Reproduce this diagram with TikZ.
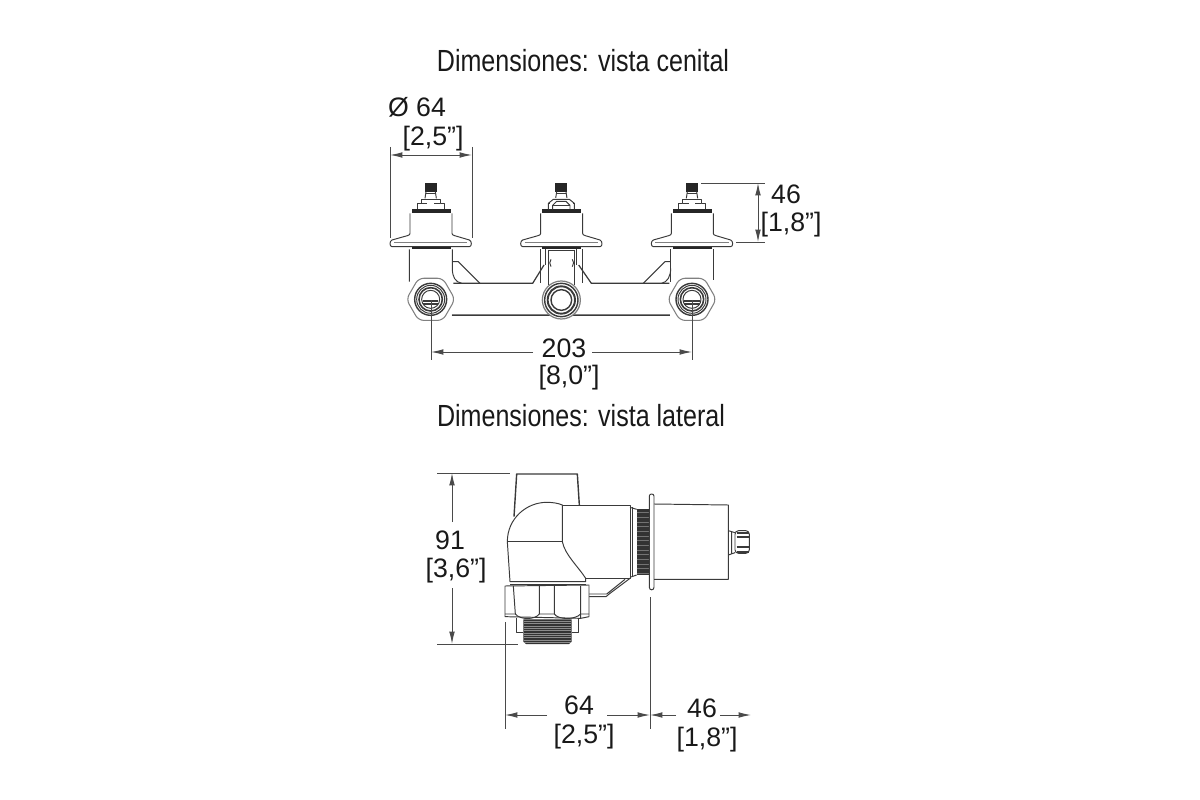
\documentclass[tikz,border=0pt]{standalone}
\usepackage{fontspec}
\setmainfont{Liberation Sans}
\newfontfamily\narrowfont[FakeStretch=0.82]{Liberation Sans}
\usetikzlibrary{arrows.meta}
\definecolor{inkgray}{HTML}{3A3A3A}
\definecolor{dimgray}{HTML}{4A4A4A}
\definecolor{threadgray}{HTML}{333333}
\tikzset{
    part/.style={draw=inkgray, line width=0.55pt, line join=round},
    thinpart/.style={draw=dimgray!70, line width=0.4pt},
    blackfill/.style={fill=black!85, draw=none},
    dimline/.style={draw=dimgray, line width=0.55pt},
    dimarrow/.style={dimline, -{Latex[length=7pt,width=3.2pt]}},
    dimboth/.style={dimline, {Latex[length=7pt,width=3.2pt]}-{Latex[length=7pt,width=3.2pt]}},
    dimtext/.style={text=black!90, font=\fontsize{15.2}{17}\selectfont, inner sep=0pt},
    titletext/.style={text=black!90, font=\narrowfont\fontsize{17.4}{19}\selectfont, inner sep=0pt},
    valvebody/.pic={
        \path[blackfill] (-18,40) rectangle (18,65);
        \draw[part] (-14,65) -- (-17,85) (14,65) -- (17,85);
        \draw[part, line width=0.8pt] (-14,70) -- (14,70);
        \draw[part] (-40,118) -- (-40,100) -- (-28,100) -- (-28,88) -- (28,88) -- (28,100) -- (40,100) -- (40,118);
        \draw[part] (-28,100) -- (-10,100) (10,100) -- (28,100);
        \path[blackfill] (-57,118) rectangle (60,130);
        \draw[part] (-62,130) -- (-62,190) .. controls (-62,194) and (-64,195) .. (-70,197) -- (-116,210)
            .. controls (-124,213) and (-124,230) .. (-116,230) -- (116,230)
            .. controls (124,230) and (124,213) .. (116,210) -- (72,197)
            .. controls (66,195) and (64,194) .. (64,190) -- (64,130);
        \draw[thinpart] (-110,217) -- (110,217);
        \path[blackfill] (-57,230) rectangle (60,236);
    },
    hexnut/.pic={
        \draw[thinpart, line width=0.6pt, fill=white, rounded corners=3pt]
            (0:73) -- (60:73) -- (120:73) -- (180:73) -- (240:73) -- (300:73) -- cycle;
        \draw[part, line width=0.8pt, fill=white] (0,0) circle (48);
        \draw[part] (0,0) circle (42);
        \draw[part, line width=0.9pt] (0,0) circle (35);
        \draw[part] (0,0) circle (27);
        \draw[part, line width=0.8pt] (-23,5) -- (23,5) (-23,14) -- (23,14);
    }
}
\begin{document}
\begin{tikzpicture}[x=0.02cm, y=-0.02cm]
    \useasboundingbox (0,0) rectangle (1200,800);

    % texts
    \node[titletext] (titletop) at (583,61) {Dimensiones: vista cenital};
    \node[titletext] (titleside) at (581,416) {Dimensiones: vista lateral};
    \node[dimtext] (dia) at (417,107) {Ø 64};
    \node[dimtext] (diainch) at (433,139) {[2,5”]};
    \node[dimtext] (high) at (786,194) {46};
    \node[dimtext] (highinch) at (791,225) {[1,8”]};
    \node[dimtext] (span) at (564,348) {203};
    \node[dimtext] (spaninch) at (569,378) {[8,0”]};
    \node[dimtext] (tall) at (450,540) {91};
    \node[dimtext] (tallinch) at (456,571) {[3,6”]};
    \node[dimtext] (deep) at (579,705) {64};
    \node[dimtext] (deepinch) at (584,737) {[2,5”]};
    \node[dimtext] (out) at (702,708) {46};
    \node[dimtext] (outinch) at (707,740) {[1,8”]};

    % top view
    \begin{scope}[shift={(380,170)}, scale=1/3]
        \pic[transform shape] at (152,0) {valvebody};
        \pic[transform shape] at (544,0) {valvebody};
        \pic[transform shape] at (936,0) {valvebody};
        % covers the plain step of the middle valve
        \path[fill=white] (510,84) rectangle (580,116);
        \draw[part] (505,118) -- (505,100) -- (520,88) -- (568,88) -- (583,100) -- (583,118);
        \draw[part] (518,118) -- (518,106) -- (530,94) -- (558,94) -- (570,106) -- (570,118);
        \draw[part] (518,106) -- (570,106);
        % tubes and bar
        \draw[part] (88,238) -- (88,335) (217,238) -- (217,295)
            .. controls (217,320) and (225,336) .. (245,340);
        \draw[part] (217,275) -- (235,275) -- (300,340);
        \draw[part] (872,335) -- (872,238) (1000,238) -- (1000,330);
        \draw[part] (872,295) .. controls (872,320) and (862,336) .. (845,340);
        \draw[part] (872,275) -- (855,275) -- (790,340);
        \draw[part, line width=0.7pt] (220,340) -- (458,340) -- (492,285);
        \draw[part, line width=0.7pt] (868,340) -- (634,340) -- (596,285);
        \draw[part] (215,437) -- (870,437);
        \draw[thinpart] (215,432) -- (870,432);
        \draw[part] (480,238) -- (480,340) (497,238) -- (497,285) (505,240) -- (505,345)
            (583,240) -- (583,345) (590,238) -- (590,285) (608,238) -- (608,340)
            (505,240) -- (583,240);
        \draw[part] (513,268) .. controls (508,275) and (508,282) .. (513,290);
        \draw[part] (577,268) .. controls (582,275) and (582,282) .. (577,290);
        % fittings
        \pic[transform shape] at (152,388) {hexnut};
        \pic[transform shape] at (936,388) {hexnut};
        \draw[thinpart, line width=0.7pt, fill=white] (544,390) circle (57);
        \draw[part, line width=0.8pt] (544,390) circle (50);
        \draw[part, line width=1.1pt] (544,390) circle (41);
        \draw[part, line width=0.8pt] (544,390) circle (31);
    \end{scope}

    % side view
    \begin{scope}[shift={(490,460)}, scale=1/3]
        \draw[part, line width=0.8pt] (72,170) -- (80,42) -- (262,42) -- (268,135);
        \draw[part, fill=white] (60,365) -- (52,245) .. controls (52,175) and (110,127) .. (170,127)
            .. controls (190,127) and (205,130) .. (217,135) -- (217,245)
            .. controls (225,285) and (265,320) .. (287,355) -- (287,365) -- cycle;
        \draw[part] (52,245) -- (217,245) (60,372) -- (287,372);
        \draw[part] (217,137) -- (420,137) -- (420,355) -- (287,355);
        \draw[part] (420,142) -- (440,148) (420,352) -- (440,345);
        \draw[part] (428,142) -- (428,350);
        \path[fill=threadgray] (440,148) rectangle (478,345);
        \foreach \ty in {158,172,...,340}{
            \draw[black!55, line width=0.2pt] (440,\ty) -- (478,\ty);
        }
        \draw[part, fill=white] (478,108) .. controls (478,100) and (492,100) .. (492,108) -- (492,382)
            .. controls (492,392) and (478,392) .. (478,382) -- cycle;
        \draw[part] (492,132) -- (715,135) -- (715,358) -- (492,358);
        \draw[part] (715,212) -- (735,218) (715,285) -- (735,278) (725,215) -- (725,282);
        \draw[part, rounded corners=2pt, fill=white] (735,212) -- (778,212) -- (778,280) -- (735,280) -- cycle;
        \draw[part, line width=1.2pt] (740,218) -- (776,218) (740,232) -- (776,232) (740,262) -- (776,262) (740,275) -- (776,275);
        % arm below the body
        \draw[part] (420,355) -- (360,400) -- (348,410) -- (292,410) (292,402) -- (350,402) -- (405,358);
        % nut and thread
        \draw[part, fill=white] (45,378) -- (297,375) -- (297,470) -- (272,475) -- (45,470) -- cycle;
        \draw[part] (70,378) -- (76,462) (148,378) -- (148,462) (193,378) -- (193,462) (272,378) -- (272,475);
        \draw[part] (45,462) -- (76,462) .. controls (90,480) and (135,480) .. (148,462) -- (193,462)
            .. controls (205,480) and (255,480) .. (272,462) -- (297,462);
        \draw[part] (80,475) -- (80,518) -- (100,518) (265,475) -- (265,518) -- (245,518);
        \path[fill=threadgray] (100,478) -- (245,478) -- (245,545) -- (237,552) -- (108,552) -- (100,545) -- cycle;
        \foreach \ty in {484,491,...,550}{
            \draw[black!45, line width=0.25pt] (101,\ty) -- (244,\ty);
        }
    \end{scope}

    % dimensions, top view
    \coordinate (diaL) at (390,155);
    \coordinate (diaR) at (472,155);
    \draw[dimline] (390,147) -- (390,238) (472,147) -- (472,238);
    \draw[dimboth] (diaL) -- (diaR);
    \coordinate (highT) at (758,183);
    \coordinate (highB) at (758,242);
    \draw[dimline] (701,183) -- (765,183) (736,242) -- (765,242);
    \draw[dimboth] (highT) -- (highB);
    \coordinate (spanL) at (431,352);
    \coordinate (spanR) at (692,352);
    \draw[dimline] (431,300) -- (431,360) (692,300) -- (692,360);
    \coordinate (spanA) at (533,352);
    \coordinate (spanB) at (592,352);
    \draw[dimarrow] (spanA) -- (spanL);
    \draw[dimarrow] (spanB) -- (spanR);

    % dimensions, side view
    \coordinate (tallT) at (452,473);
    \coordinate (tallB) at (452,644);
    \draw[dimline] (437,473) -- (510,473) (437,644) -- (518,644);
    \draw[dimarrow] (452,522) coordinate (tallA) -- (tallT);
    \draw[dimarrow] (452,588) coordinate (tallC) -- (tallB);
    \coordinate (deepL) at (505,715);
    \coordinate (deepR) at (650,715);
    \coordinate (outR) at (751,715);
    \draw[dimline] (505,622) -- (505,729) (650,597) -- (650,729);
    \draw[dimarrow] (547,715) coordinate (deepA) -- (deepL);
    \draw[dimarrow] (607,715) coordinate (deepB) -- (deepR);
    \draw[dimarrow] (676,715) coordinate (outA) -- (deepR);
    \draw[dimarrow] (720,715) coordinate (outB) -- (outR);
\end{tikzpicture}
\end{document}
